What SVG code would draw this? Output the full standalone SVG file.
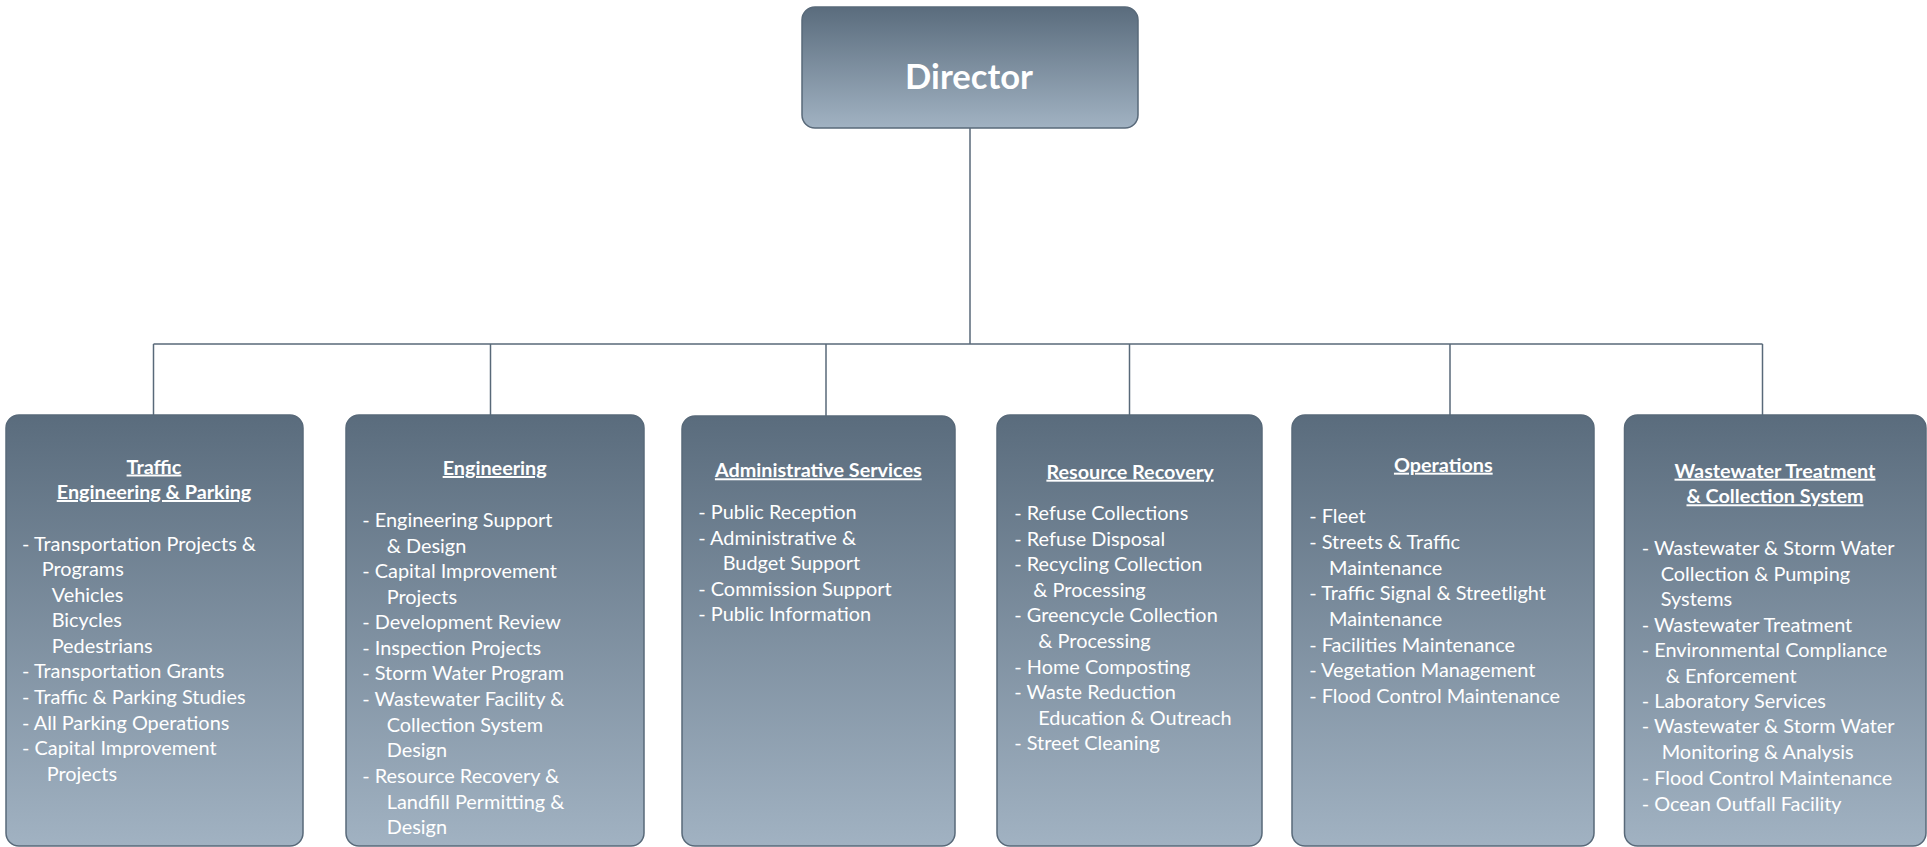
<svg xmlns="http://www.w3.org/2000/svg" width="1927" height="847" viewBox="0 0 1927 847">
<defs>
<linearGradient id="g" x1="0" y1="0" x2="0" y2="1">
<stop offset="0" stop-color="#5a6c7d"/>
<stop offset="1" stop-color="#a1b2c2"/>
</linearGradient>
<style>
.box{fill:url(#g);stroke:#586979;stroke-width:1.5}
.ln{stroke:#586979;stroke-width:1.5;fill:none}
text{font-family:Lato,"Liberation Sans",sans-serif;fill:#ffffff}
.t{font-size:19.9px}
.h{font-size:19.8px;font-weight:bold;text-anchor:middle;text-decoration:underline}
.d{font-size:34.6px;font-weight:bold;text-anchor:middle}
</style>
</defs>
<g id="connectors">
<line class="ln" x1="970" y1="128" x2="970" y2="344"/>
<line class="ln" x1="153.5" y1="344" x2="1762.5" y2="344"/>
<line class="ln" x1="153.5" y1="344" x2="153.5" y2="415"/>
<line class="ln" x1="490.5" y1="344" x2="490.5" y2="415"/>
<line class="ln" x1="826" y1="344" x2="826" y2="416"/>
<line class="ln" x1="1129.5" y1="344" x2="1129.5" y2="415"/>
<line class="ln" x1="1450" y1="344" x2="1450" y2="415"/>
<line class="ln" x1="1762.5" y1="344" x2="1762.5" y2="415"/>
</g>
<g id="director">
<rect class="box" x="802" y="7" width="336" height="121" rx="13"/>
<text class="d" x="969" y="89">Director</text>
</g>
<g id="traffic">
<rect class="box" x="6" y="415" width="297" height="431" rx="13"/>
<text class="h" x="154" y="473.5">Traffic</text>
<text class="h" x="154" y="499">Engineering &amp; Parking</text>
<text class="t" x="22" y="550.7">- Transportation Projects &amp;</text>
<text class="t" x="41.7" y="576">Programs</text>
<text class="t" x="51.7" y="601.5">Vehicles</text>
<text class="t" x="51.7" y="627">Bicycles</text>
<text class="t" x="51.7" y="652.5">Pedestrians</text>
<text class="t" x="22" y="678">- Transportation Grants</text>
<text class="t" x="22" y="704">- Traffic &amp; Parking Studies</text>
<text class="t" x="22" y="729.7">- All Parking Operations</text>
<text class="t" x="22" y="755.2">- Capital Improvement</text>
<text class="t" x="46.7" y="780.7">Projects</text>
</g>
<g id="engineering">
<rect class="box" x="346" y="415" width="298" height="431" rx="13"/>
<text class="h" x="494.7" y="475">Engineering</text>
<text class="t" x="362.3" y="527.3">- Engineering Support</text>
<text class="t" x="386.7" y="552.8">&amp; Design</text>
<text class="t" x="362.3" y="578.3">- Capital Improvement</text>
<text class="t" x="386.7" y="603.8">Projects</text>
<text class="t" x="362.3" y="629.3">- Development Review</text>
<text class="t" x="362.3" y="654.8">- Inspection Projects</text>
<text class="t" x="362.3" y="680.3">- Storm Water Program</text>
<text class="t" x="362.3" y="705.8">- Wastewater Facility &amp;</text>
<text class="t" x="386.7" y="731.5">Collection System</text>
<text class="t" x="386.7" y="757.2">Design</text>
<text class="t" x="362.3" y="783">- Resource Recovery &amp;</text>
<text class="t" x="386.7" y="808.5">Landfill Permitting &amp;</text>
<text class="t" x="386.7" y="834">Design</text>
</g>
<g id="admin">
<rect class="box" x="682" y="416" width="273" height="430" rx="13"/>
<text class="h" x="818.3" y="477.3">Administrative Services</text>
<text class="t" x="698.3" y="519">- Public Reception</text>
<text class="t" x="698.3" y="544.7">- Administrative &amp;</text>
<text class="t" x="722.7" y="570.2">Budget Support</text>
<text class="t" x="698.3" y="595.7">- Commission Support</text>
<text class="t" x="698.3" y="621">- Public Information</text>
</g>
<g id="resource">
<rect class="box" x="997" y="415" width="265" height="431" rx="13"/>
<text class="h" x="1130" y="478.7">Resource Recovery</text>
<text class="t" x="1014.3" y="520">- Refuse Collections</text>
<text class="t" x="1014.3" y="545.5">- Refuse Disposal</text>
<text class="t" x="1014.3" y="571">- Recycling Collection</text>
<text class="t" x="1033.3" y="596.7">&amp; Processing</text>
<text class="t" x="1014.3" y="622.3">- Greencycle Collection</text>
<text class="t" x="1038.3" y="648">&amp; Processing</text>
<text class="t" x="1014.3" y="673.5">- Home Composting</text>
<text class="t" x="1014.3" y="699">- Waste Reduction</text>
<text class="t" x="1038.3" y="724.5">Education &amp; Outreach</text>
<text class="t" x="1014.3" y="750">- Street Cleaning</text>
</g>
<g id="operations">
<rect class="box" x="1292" y="415" width="302" height="431" rx="13"/>
<text class="h" x="1443.3" y="471.7">Operations</text>
<text class="t" x="1309.3" y="523.3">- Fleet</text>
<text class="t" x="1309.3" y="549">- Streets &amp; Traffic</text>
<text class="t" x="1329" y="574.7">Maintenance</text>
<text class="t" x="1309.3" y="600.3">- Traffic Signal &amp; Streetlight</text>
<text class="t" x="1329" y="625.8">Maintenance</text>
<text class="t" x="1309.3" y="651.5">- Facilities Maintenance</text>
<text class="t" x="1309.3" y="677">- Vegetation Management</text>
<text class="t" x="1309.3" y="702.7">- Flood Control Maintenance</text>
</g>
<g id="wastewater">
<rect class="box" x="1624.5" y="415" width="301.5" height="431" rx="13"/>
<text class="h" x="1775" y="477.7">Wastewater Treatment</text>
<text class="h" x="1775" y="503.3">&amp; Collection System</text>
<text class="t" x="1641.7" y="555">- Wastewater &amp; Storm Water</text>
<text class="t" x="1660.7" y="580.6">Collection &amp; Pumping</text>
<text class="t" x="1660.7" y="606">Systems</text>
<text class="t" x="1641.7" y="631.6">- Wastewater Treatment</text>
<text class="t" x="1641.7" y="657">- Environmental Compliance</text>
<text class="t" x="1665.7" y="682.6">&amp; Enforcement</text>
<text class="t" x="1641.7" y="707.8">- Laboratory Services</text>
<text class="t" x="1641.7" y="733.4">- Wastewater &amp; Storm Water</text>
<text class="t" x="1661.7" y="759">Monitoring &amp; Analysis</text>
<text class="t" x="1641.7" y="784.8">- Flood Control Maintenance</text>
<text class="t" x="1641.7" y="810.5">- Ocean Outfall Facility</text>
</g>
</svg>
